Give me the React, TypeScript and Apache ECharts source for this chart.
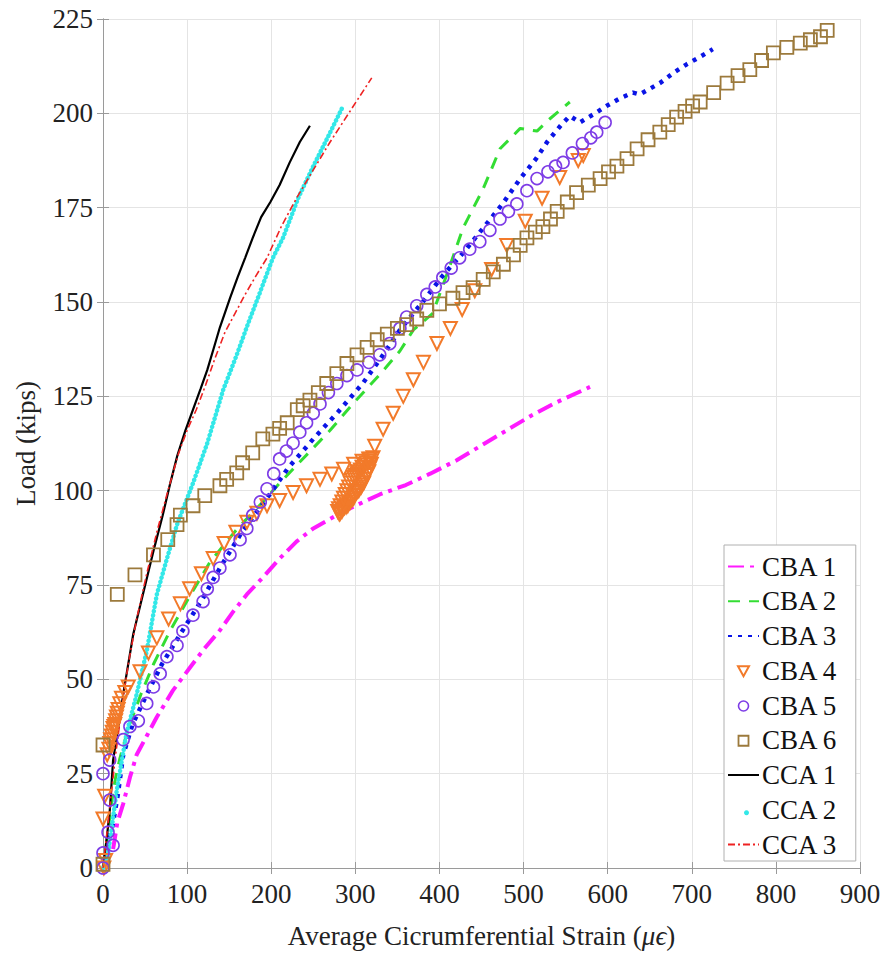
import React, { useEffect, useRef } from "react";
import * as echarts from "echarts";

const xTicks = { min: 0, max: 900, interval: 100 };
const yTicks = { min: 0, max: 225, interval: 25 };

const seriesNames = ["CBA 1", "CBA 2", "CBA 3", "CBA 4", "CBA 5", "CBA 6", "CCA 1", "CCA 2", "CCA 3"];

const cba1: number[][] = [[12,5],[17,12],[24,17],[32,24],[40,30],[52,35],[64,40],[83,47],[103,53],[120,58],[139,63],[155,68],[171,72.5],[190,77],[210,82],[230,86.5],[250,90],[270,92.5],[282,94],[300,96],[329,99],[360,101.5],[389,104.5],[420,108],[450,112],[480,116],[510,120],[540,123.5],[579,127.5]];

const cba2: number[][] = [[0,0],[5,8],[10,17],[15,24],[20,29],[30,37],[45,46],[60,54],[80,63],[103,72],[127,81],[160,90],[190,97],[210,102],[240,109],[270,116],[297,123],[330,131],[353,137],[369,142.6],[392,147],[410,158],[428,169.6],[452,180],[472,190.6],[496,196],[516,195.3],[531,198.5],[555,203]];

const cba3: number[][] = [[3,3],[8,8],[12,12],[18,20],[24,30],[35,38],[52,46],[70,54],[92,62],[119,71.6],[139,79.5],[165,89],[195,98],[220,106],[250,113.7],[280,121],[309,128.5],[330,135],[353,142.6],[380,150],[404,157],[430,163.5],[452,169.6],[475,176],[496,182.7],[515,188],[528,192.4],[545,197],[555,199.3],[567,197.6],[585,200],[599,202],[615,204],[630,205.5],[638,205],[650,206.5],[662,208],[680,211],[694,213],[710,215],[725,217]];

const cba4: number[][] = [[1,0],[3,2],[0,13],[2,19],[5,30],[7,31.5],[8,33],[9,34],[10,35],[11,36],[12,37],[13,37.5],[14,38],[15,39],[16,40],[17,41],[18,42],[20,43.5],[22,45],[26,46.5],[30,48],[44,52],[54,57],[64,61],[78,66],[92,70],[103,74],[117,78],[131,82],[144,86],[158,89],[171,91.6],[183,94],[195,96],[210,97.4],[226,99.5],[242,101.3],[258,103],[272,104.4],[286,105.7],[298,107],[308,107.8],[316,108.4],[319,107],[317,106],[316,105],[314,104.5],[313,104],[311,103],[310,102],[308,101.5],[307,101],[305,100.5],[304,100],[302,99.7],[301,99.5],[299,98.7],[298,98],[296,97.5],[294,97],[292,96.5],[291,96],[289,95.7],[287,95.5],[285,95],[284,94.5],[282,94],[281,93.8],[279,94.5],[280,95.2],[282,96],[284,97],[286,98],[288,99],[290,100],[292,101],[294,102],[296,102.8],[298,103.5],[300,104],[302,104.5],[304,105],[306,105.5],[308,106.2],[311,106.8],[313,107.3],[316,107.8],[318,108.3],[321,108.7],[323,111.8],[333,116.3],[345,120.5],[357,125],[369,129.4],[381,134],[397,139],[413,143],[427,148],[442,153],[462,158.6],[480,165],[502,171.4],[522,177.5],[543,183],[565,187.5],[571,188.8]];

const cba5: number[][] = [[0,0],[0,4],[12,6],[6,9.5],[8,18],[0,25],[8,28.6],[24,34],[32,37.5],[42,39],[52,43.6],[60,48],[68,51.5],[76,56],[88,59],[95,62.8],[107,67],[119,70.6],[124,74],[131,77],[139,79.5],[151,83],[163,87],[171,90],[178,93.5],[187,97],[195,100.5],[203,104.5],[210,108.4],[218,110.5],[226,112.6],[234,115.5],[242,118],[250,120.5],[258,123],[268,126],[278,128.4],[290,130.5],[302,132],[316,134],[329,136],[341,139],[353,143],[361,146],[373,149],[385,152],[395,154],[404,156.5],[414,159],[424,161.7],[436,164],[448,166],[460,169],[472,172],[482,174],[492,176],[504,179.5],[516,182.7],[529,184.5],[538,186],[547,187],[558,189.5],[570,192],[580,193.5],[587,195],[597,197.6]];

const cba6: number[][] = [[0,1],[0,32.6],[17,72.5],[38,77.7],[60,83],[77,87],[88,91],[92,93.5],[107,96],[121,98.7],[139,101.3],[147,103],[159,104.7],[166,107.4],[178,110],[190,113.7],[202,115],[210,116.5],[219,118],[231,121.5],[238,122.5],[246,124],[256,126],[266,128.4],[278,131],[290,133.7],[302,136],[314,138],[326,140],[338,141.5],[350,143],[361,144],[373,145.5],[385,147.8],[400,149.5],[416,151],[428,152.5],[440,153.8],[452,156],[464,158],[476,160],[488,162.5],[496,165],[504,167],[514,168.5],[523,170],[532,172],[540,174],[552,176.5],[563,179],[577,181],[591,182.7],[601,184.5],[611,186],[623,188],[635,190.6],[648,193],[662,195],[672,197],[682,199],[692,200.5],[701,202],[710,203],[726,205.5],[742,208],[755,210],[769,211.6],[783,214],[797,216],[813,217.5],[829,218.6],[841,219.5],[853,220.3],[861,222]];

const cca1: number[][] = [[0,0],[3,5],[8,15],[12,28.6],[18,37],[24,46],[36,62],[48,73],[60,84],[71,93.5],[80,102],[88,109],[98,116],[107,121.5],[116,127],[124,132],[132,138],[139,143.3],[151,151],[160,156.5],[169,161.7],[178,167],[188,172.5],[199,176.5],[210,181],[222,187],[234,192.4],[246,196.7]];

const cca2: number[][] = [[0,0],[5,2.4],[10,10],[16,20],[22,28],[28,35.7],[40,46],[52,57.5],[64,72.5],[76,82],[88,91],[107,102],[124,112.6],[143,126.8],[159,136],[172,144],[184,151],[202,161.7],[214,167],[232,177.5],[250,186],[268,194],[285.6,202]];

const cca3: number[][] = [[0,0],[4,8],[9,18],[15,30],[22,42],[30,54],[40,66],[52,78],[64,89],[76,99],[90,110],[100,116],[111,121.5],[122,128],[133,135],[145,142],[157,147],[169,152],[182,157],[195,161.7],[212,170],[230,177.5],[250,185],[270,192.4],[295,201],[319.5,209.4]];

const FONT = "'Liberation Serif', 'Times New Roman', serif";

const COLORS = ["#ff1aff", "#33dd33", "#0a14e6", "#f27a2a", "#7d3ce6", "#9c7a3c", "#000000", "#33e8e8", "#ee2222"];

export default function App() {
  const ref = useRef<HTMLDivElement>(null);
  useEffect(() => {
    if (!ref.current) return;
    const chart = echarts.init(ref.current, undefined, { renderer: "svg" });
    const axisCommon = {
      axisLine: { show: true, lineStyle: { color: "#9a9a9a", width: 1 } },
      axisTick: { show: true, inside: true, length: 6, lineStyle: { color: "#9a9a9a" } },
    };
    const lineSeries = (i: number, data: number[][], width: number, type: any, cap: string = "butt") => ({
      name: seriesNames[i],
      type: "line",
      data,
      symbol: "none",
      showSymbol: false,
      itemStyle: { color: COLORS[i] },
      lineStyle: { color: COLORS[i], width, type, cap },
      z: 2,
    });
    const scatterSeries = (i: number, data: number[][], symbol: string, size: number, rotate = 0, bw = 2) => ({
      name: seriesNames[i],
      type: "scatter",
      data,
      symbol,
      symbolSize: size,
      symbolRotate: rotate,
      itemStyle: { color: "rgba(255,255,255,0)", borderColor: COLORS[i], borderWidth: bw, opacity: 1 },
      z: 2,
    });
    const lineLegend = (i: number) => ({ name: seriesNames[i], itemStyle: { opacity: 0 } });
    const markLegend = (i: number, icon: string, bw: number) => ({
      name: seriesNames[i],
      icon,
      itemStyle: { color: "rgba(255,255,255,0)", borderColor: COLORS[i], borderWidth: bw, opacity: 1 },
    });
    chart.setOption({
      animation: false,
      backgroundColor: "#ffffff",
      textStyle: { fontFamily: FONT },
      grid: { left: 103, right: 26, top: 19, bottom: 78, containLabel: false },
      xAxis: [
        {
          type: "value",
          min: xTicks.min,
          max: xTicks.max,
          interval: xTicks.interval,
          ...axisCommon,
          axisLabel: { color: "#222", fontSize: 27, fontFamily: FONT, margin: 12 },
          splitLine: { show: true, lineStyle: { color: "#e4e4e4", width: 1 } },
          name: "{a|Average Cicrumferential Strain (}{b|μϵ}{a|)}",
          nameLocation: "middle",
          nameGap: 54,
          nameTextStyle: {
            color: "#222",
            fontSize: 27,
            fontFamily: FONT,
            rich: {
              a: { fontSize: 27, fontFamily: FONT, color: "#222" },
              b: { fontSize: 27, fontFamily: FONT, fontStyle: "italic", color: "#222" },
            },
          },
        },
        {
          type: "value",
          position: "top",
          min: xTicks.min,
          max: xTicks.max,
          interval: xTicks.interval,
          ...axisCommon,
          axisLabel: { show: false },
          splitLine: { show: false },
        },
      ],
      yAxis: [
        {
          type: "value",
          min: yTicks.min,
          max: yTicks.max,
          interval: yTicks.interval,
          ...axisCommon,
          axisLabel: { color: "#222", fontSize: 27, fontFamily: FONT, margin: 10 },
          splitLine: { show: true, lineStyle: { color: "#e4e4e4", width: 1 } },
          name: "Load (kips)",
          nameLocation: "middle",
          nameGap: 64,
          nameTextStyle: { color: "#222", fontSize: 27, fontFamily: FONT },
        },
        {
          type: "value",
          position: "right",
          min: yTicks.min,
          max: yTicks.max,
          interval: yTicks.interval,
          ...axisCommon,
          axisLabel: { show: false },
          splitLine: { show: false },
        },
      ],
      legend: {
        orient: "vertical",
        left: 724,
        top: 545,
        padding: [8, 18, 3, 3],
        itemWidth: 31,
        itemHeight: 12,
        itemGap: 7.75,
        backgroundColor: "#ffffff",
        borderColor: "#b0b0b0",
        borderWidth: 1,
        borderRadius: 0,
        textStyle: { color: "#111", fontSize: 27, fontFamily: FONT, lineHeight: 27, padding: [0, 0, 0, -2] },
        data: [
          lineLegend(0),
          lineLegend(1),
          lineLegend(2),
          markLegend(3, "path://M0,0 M31,12 M10,1.5 L21,1.5 L15.5,11.5 Z", 2),
          markLegend(4, "path://M0,0 M31,12 M20.5,6.5 A5,5 0 1,0 10.5,6.5 A5,5 0 1,0 20.5,6.5 Z", 1.6),
          markLegend(5, "path://M0,0 M31,12 M10.5,1.5 L20.5,1.5 L20.5,11.5 L10.5,11.5 Z", 1.8),
          lineLegend(6),
          { name: seriesNames[7], icon: "path://M0,0 M31,12 M18.5,6.5a2.5,2.5 0 1,0 0.01,0z" },
          lineLegend(8),
        ],
      },
      series: [
        lineSeries(0, cba1, 4, [16, 6, 4, 6]),
        lineSeries(1, cba2, 3, [12, 9]),
        lineSeries(2, cba3, 4.5, [4, 6]),
        scatterSeries(3, cba4, "triangle", 13, 180, 2),
        scatterSeries(4, cba5, "circle", 12, 0, 1.6),
        scatterSeries(5, cba6, "rect", 13, 0, 1.8),
        lineSeries(6, cca1, 2.2, "solid"),
        lineSeries(7, cca2, 4.5, [0.1, 4.2], "round"),
        lineSeries(8, cca3, 1.6, [7, 3, 2, 3]),
      ],
    });
    return () => chart.dispose();
  }, []);
  return <div ref={ref} style={{ position: "fixed", left: 0, top: 0, width: 886, height: 954 }} />;
}
